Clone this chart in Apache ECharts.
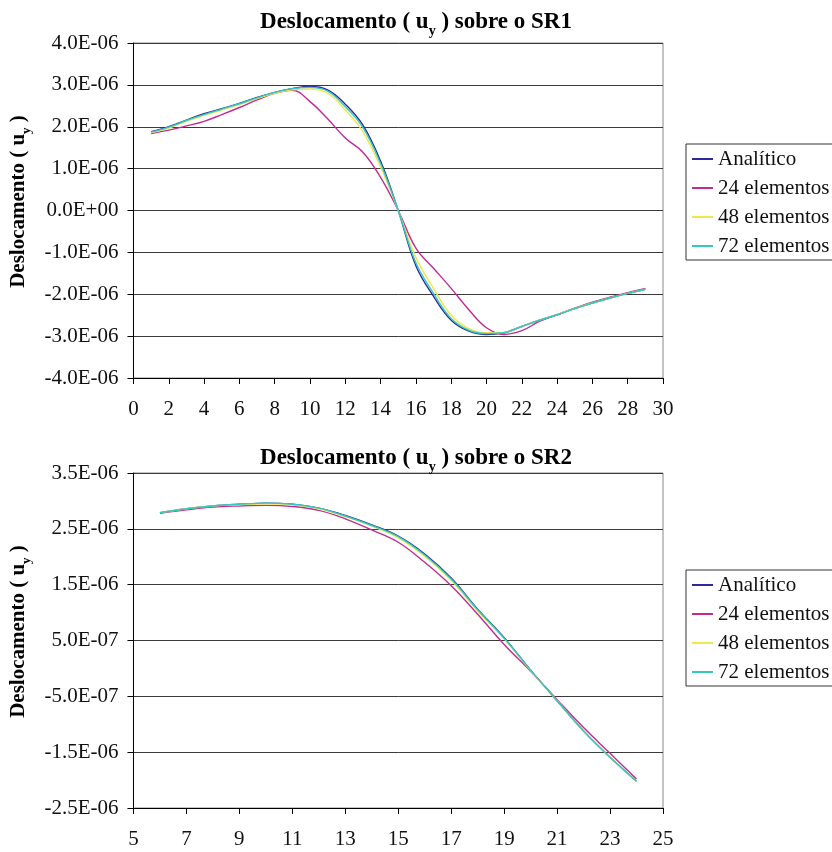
<!DOCTYPE html>
<html>
<head>
<meta charset="utf-8">
<script src="https://cdn.jsdelivr.net/npm/echarts@6/dist/echarts.min.js"></script>
<style>
  html, body { margin: 0; padding: 0; background: #fff; }
  #chart { width: 832px; height: 852px; }
</style>
</head>
<body>
<div id="chart"></div>
<script>
// Positions along SR1 (1..29) and SR2 (6..24)
const xSR1 = [1,2,3,4,5,6,7,8,9,10,11,12,13,14,15,16,17,18,19,20,21,22,23,24,25,26,27,28,29];
const xSR2 = [6,7,8,9,10,11,12,13,14,15,16,17,18,19,20,21,22,23,24];

const seriesNames = ['Analítico', '24 elementos', '48 elementos', '72 elementos'];

// Displacement u_y on SR1
const sr1Analitico = [1.88e-6,2.00e-6,2.16e-6,2.31e-6,2.43e-6,2.56e-6,2.70e-6,2.82e-6,2.91e-6,2.96e-6,2.88e-6,2.54e-6,2.04e-6,1.18e-6,0.00,
  -1.32e-6,-2.05e-6,-2.62e-6,-2.88e-6,-2.96e-6,-2.92e-6,-2.77e-6,-2.62e-6,-2.49e-6,-2.34e-6,-2.21e-6,-2.09e-6,-1.98e-6,-1.88e-6];
const sr1E24 = [1.84e-6,1.92e-6,2.02e-6,2.13e-6,2.29e-6,2.46e-6,2.64e-6,2.80e-6,2.87e-6,2.60e-6,2.19e-6,1.73e-6,1.39e-6,0.79e-6,0.00,
  -0.90e-6,-1.38e-6,-1.86e-6,-2.37e-6,-2.80e-6,-2.96e-6,-2.87e-6,-2.65e-6,-2.49e-6,-2.33e-6,-2.19e-6,-2.07e-6,-1.96e-6,-1.86e-6];
const sr1E48 = [1.86e-6,1.97e-6,2.13e-6,2.27e-6,2.40e-6,2.53e-6,2.67e-6,2.80e-6,2.88e-6,2.90e-6,2.80e-6,2.40e-6,1.88e-6,1.04e-6,0.00,
  -1.12e-6,-1.86e-6,-2.50e-6,-2.82e-6,-2.92e-6,-2.91e-6,-2.77e-6,-2.62e-6,-2.48e-6,-2.34e-6,-2.21e-6,-2.09e-6,-1.98e-6,-1.88e-6];
const sr1E72 = [1.87e-6,1.99e-6,2.15e-6,2.29e-6,2.42e-6,2.55e-6,2.69e-6,2.82e-6,2.91e-6,2.94e-6,2.85e-6,2.48e-6,1.98e-6,1.12e-6,0.00,
  -1.25e-6,-1.98e-6,-2.58e-6,-2.86e-6,-2.94e-6,-2.92e-6,-2.77e-6,-2.62e-6,-2.49e-6,-2.34e-6,-2.21e-6,-2.09e-6,-1.98e-6,-1.88e-6];

// Displacement u_y on SR2
const sr2Analitico = [2.79e-6,2.86e-6,2.91e-6,2.94e-6,2.96e-6,2.94e-6,2.87e-6,2.74e-6,2.57e-6,2.37e-6,2.05e-6,1.62e-6,1.06e-6,0.55e-6,-0.03e-6,-0.58e-6,-1.12e-6,-1.59e-6,-2.02e-6];
const sr2E24 = [2.78e-6,2.84e-6,2.89e-6,2.91e-6,2.92e-6,2.90e-6,2.83e-6,2.68e-6,2.48e-6,2.26e-6,1.90e-6,1.48e-6,0.97e-6,0.43e-6,-0.05e-6,-0.56e-6,-1.06e-6,-1.52e-6,-1.98e-6];
const sr2E48 = [2.79e-6,2.86e-6,2.91e-6,2.93e-6,2.95e-6,2.93e-6,2.86e-6,2.72e-6,2.55e-6,2.34e-6,2.01e-6,1.58e-6,1.03e-6,0.53e-6,-0.04e-6,-0.58e-6,-1.12e-6,-1.59e-6,-2.02e-6];
const sr2E72 = [2.79e-6,2.86e-6,2.91e-6,2.94e-6,2.96e-6,2.94e-6,2.87e-6,2.73e-6,2.56e-6,2.36e-6,2.03e-6,1.60e-6,1.05e-6,0.54e-6,-0.03e-6,-0.58e-6,-1.12e-6,-1.59e-6,-2.02e-6];

// Axis tick values
const sr1XTicks = [0,2,4,6,8,10,12,14,16,18,20,22,24,26,28,30];
const sr2XTicks = [5,7,9,11,13,15,17,19,21,23,25];
const sr1YTicks = [-4e-6,-3e-6,-2e-6,-1e-6,0,1e-6,2e-6,3e-6,4e-6];
const sr2YTicks = [-2.5e-6,-1.5e-6,-0.5e-6,0.5e-6,1.5e-6,2.5e-6,3.5e-6];

const colors = ['#2b2b9c', '#c42a94', '#f2e64c', '#33c9c0'];
const FONT = '"Liberation Serif", "Times New Roman", serif';

// Excel-like "0.0E+00" formatting
function sci(v) {
  if (Math.abs(v) < 1e-15) return '0.0E+00';
  let e = Math.floor(Math.log10(Math.abs(v)) + 1e-9);
  let m = v / Math.pow(10, e);
  m = Math.round(m * 10) / 10;
  if (Math.abs(m) >= 10) { m /= 10; e += 1; }
  const es = (e < 0 ? '-' : '+') + String(Math.abs(e)).padStart(2, '0');
  return m.toFixed(1) + 'E' + es;
}

function pairs(xs, ys) { return xs.map((x, i) => [x, ys[i]]); }

const titleRich = {
  a: { fontFamily: FONT, fontWeight: 'bold', fontSize: 23, color: '#000', lineHeight: 26 },
  s: { fontFamily: FONT, fontWeight: 'bold', fontSize: 14, color: '#000', lineHeight: 26, verticalAlign: 'bottom', padding: [0, 0, -3, 0] }
};
const nameRich = {
  a: { fontFamily: FONT, fontWeight: 'bold', fontSize: 21, color: '#000', lineHeight: 24 },
  s: { fontFamily: FONT, fontWeight: 'bold', fontSize: 13, color: '#000', lineHeight: 24, verticalAlign: 'bottom', padding: [0, 0, -3, 0] }
};

const grids = [
  { left: 132, top: 43, width: 531, height: 335 },
  { left: 132, top: 473, width: 531, height: 335 }
];

function xAxis(gi, min, max, ticks) {
  return {
    type: 'value', gridIndex: gi, min: min, max: max,
    axisLine: { show: true, onZero: false, lineStyle: { color: '#000', width: 1 } },
    axisTick: { show: true, length: 6, inside: false, customValues: ticks, lineStyle: { color: '#000' } },
    axisLabel: { customValues: ticks, margin: 21, fontFamily: FONT, fontSize: 21, color: '#111' },
    splitLine: { show: false }
  };
}
function yAxis(gi, min, max, ticks) {
  return {
    type: 'value', gridIndex: gi, min: min, max: max, interval: 1e-6,
    name: '{a|Deslocamento ( u}{s|y}{a| )}',
    nameLocation: 'middle', nameRotate: 90, nameGap: 99,
    nameTextStyle: { rich: nameRich, padding: [0, 0, 0, 18] },
    axisLine: { show: true, onZero: false, lineStyle: { color: '#000', width: 1 } },
    axisTick: { show: true, length: 6, customValues: ticks, lineStyle: { color: '#000' } },
    axisLabel: { customValues: ticks, margin: 15, fontFamily: FONT, fontSize: 21, color: '#111', formatter: sci },
    splitLine: { show: true, lineStyle: { color: '#3a3a3a', width: 1 } }
  };
}

function legend(top) {
  return {
    orient: 'vertical', left: 686, top: top,
    data: seriesNames.map(n => ({ name: n, icon: 'rect' })),
    itemWidth: 21, itemHeight: 2, itemGap: 7,
    padding: [4, 6, 3, 6],
    borderColor: '#333', borderWidth: 1, backgroundColor: '#fff',
    textStyle: { fontFamily: FONT, fontSize: 21, color: '#111', lineHeight: 22 }
  };
}

function lineSeries(name, xi, xs, ys, ci) {
  return {
    type: 'line', name: name, xAxisIndex: xi, yAxisIndex: xi,
    data: pairs(xs, ys), smooth: 0.4, showSymbol: false, symbol: 'none',
    lineStyle: { color: colors[ci], width: 1.4 }, itemStyle: { color: colors[ci] },
    z: 2 + ci, animation: false
  };
}

const chart = echarts.init(document.getElementById('chart'), null, { renderer: 'canvas' });
chart.setOption({
  animation: false,
  backgroundColor: '#fff',
  title: [
    { text: '{a|Deslocamento ( u}{s|y}{a| ) sobre o SR1}', left: 'center', top: 4, textStyle: { rich: titleRich } },
    { text: '{a|Deslocamento ( u}{s|y}{a| ) sobre o SR2}', left: 'center', top: 440, textStyle: { rich: titleRich } }
  ],
  grid: grids.map(g => Object.assign({ show: true, borderColor: '#888', borderWidth: 1, backgroundColor: 'transparent' }, g)),
  legend: [ legend(144), legend(570) ],
  xAxis: [ xAxis(0, 0, 30, sr1XTicks), xAxis(1, 5, 25, sr2XTicks) ],
  yAxis: [ yAxis(0, -4e-6, 4e-6, sr1YTicks), yAxis(1, -2.5e-6, 3.5e-6, sr2YTicks) ],
  series: [
    lineSeries(seriesNames[0], 0, xSR1, sr1Analitico, 0),
    lineSeries(seriesNames[1], 0, xSR1, sr1E24, 1),
    lineSeries(seriesNames[2], 0, xSR1, sr1E48, 2),
    lineSeries(seriesNames[3], 0, xSR1, sr1E72, 3),
    lineSeries(seriesNames[0], 1, xSR2, sr2Analitico, 0),
    lineSeries(seriesNames[1], 1, xSR2, sr2E24, 1),
    lineSeries(seriesNames[2], 1, xSR2, sr2E48, 2),
    lineSeries(seriesNames[3], 1, xSR2, sr2E72, 3)
  ]
});
</script>
</body>
</html>
